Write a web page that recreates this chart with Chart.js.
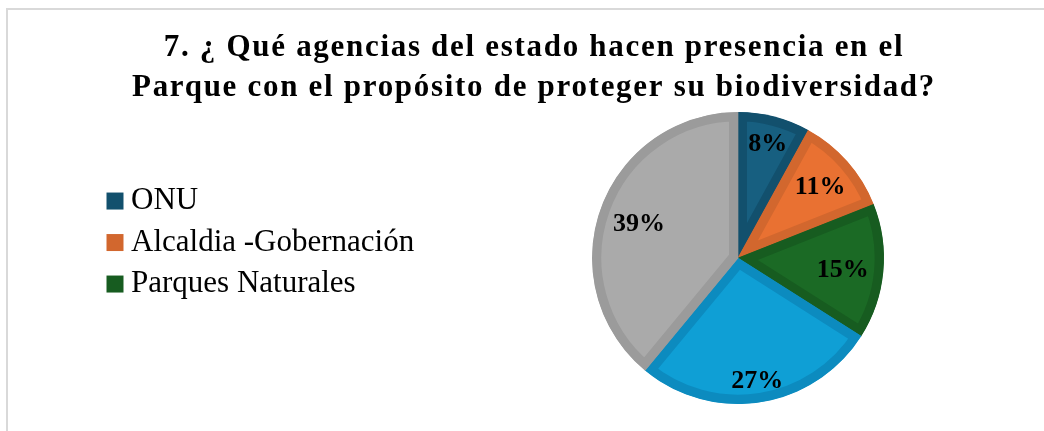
<!DOCTYPE html>
<html>
<head>
<meta charset="utf-8">
<script src="https://cdn.jsdelivr.net/npm/chart.js@4"></script>
<style>
  html, body { margin: 0; padding: 0; background: #fff; overflow: hidden; }
  #wrap { position: relative; width: 1044px; height: 431px; }
  #frame { position: absolute; left: 6px; top: 8px; width: 1100px; height: 500px;
           border-left: 2px solid #d9d9d9; border-top: 2px solid #d9d9d9; }
  canvas { position: absolute; left: 0; top: 0; }
</style>
</head>
<body>
<div id="wrap">
  <div id="frame"></div>
  <canvas id="chart" width="1044" height="431"></canvas>
</div>
<script>
const titleLines = [
  '7. ¿ Qué agencias del estado hacen presencia en el',
  'Parque con el propósito de proteger su biodiversidad?'
];
const categories = ['ONU', 'Alcaldia -Gobernación', 'Parques Naturales', 'Policía Nacional', 'Ninguna'];
const percentages = [8, 11, 15, 27, 39];
const shownInLegend = 3; // the original legend only lists the first three

const fillColors = ['#175f80', '#e97132', '#1b6a25', '#0f9fd5', '#aaaaaa'];
const edgeColors = ['#12506d', '#d2672e', '#175c20', '#0c8bbf', '#9b9b9b'];

Chart.defaults.font.family = "'Liberation Serif', 'Times New Roman', serif";
Chart.defaults.color = '#000';

// % labels inside each slice, placed along the slice's middle angle
const sliceLabels = {
  id: 'sliceLabels',
  afterDatasetsDraw(chart, args, opts) {
    const ctx = chart.ctx;
    const meta = chart.getDatasetMeta(0);
    const vals = chart.data.datasets[0].data;
    const total = vals.reduce((a, b) => a + b, 0);
    ctx.save();
    ctx.font = 'bold 26px ' + Chart.defaults.font.family;
    ctx.fillStyle = '#000';
    ctx.textAlign = 'center';
    ctx.textBaseline = 'middle';
    meta.data.forEach((arc, i) => {
      const mid = (arc.startAngle + arc.endAngle) / 2;
      const r = arc.outerRadius * opts.radius[i];
      const txt = Math.round(vals[i] / total * 100) + '%';
      ctx.fillText(txt, arc.x + Math.cos(mid) * r, arc.y + Math.sin(mid) * r + 2);
    });
    ctx.restore();
  }
};

// wider legend box (pushes the pie right) and letter-spaced title
const tweaks = {
  id: 'tweaks',
  afterInit(chart, args, opts) {
    const lg = chart.legend;
    const fit = lg.fit;
    lg.fit = function () { fit.call(this); this.width = opts.legendWidth; };
    const tb = chart.titleBlock;
    const draw = tb.draw;
    tb.draw = function (area) {
      const c = this.ctx;
      c.save();
      c.letterSpacing = opts.titleSpacing;
      draw.call(this, area);
      c.restore();
    };
  }
};

new Chart(document.getElementById('chart'), {
  type: 'pie',
  data: {
    labels: categories,
    datasets: [{
      data: percentages,
      backgroundColor: fillColors,
      borderColor: edgeColors,
      borderWidth: 9,
      borderAlign: 'inner'
    }]
  },
  options: {
    responsive: false,
    animation: false,
    layout: { padding: { left: 104, right: 80, top: 0, bottom: 27 } },
    plugins: {
      title: {
        display: true,
        text: titleLines,
        color: '#000',
        font: { size: 31, weight: 'bold', lineHeight: 1.27 },
        padding: { top: 28.5, bottom: 4.8 }
      },
      legend: {
        position: 'left',
        align: 'start',
        fullSize: false,
        title: { display: true, text: ' ', font: { size: 13, lineHeight: 1 }, padding: { top: 50, bottom: 0 } },
        labels: {
          font: { size: 31 },
          color: '#000',
          padding: 10.5,
          boxWidth: 1,
          boxHeight: 17,
          usePointStyle: true,
          pointStyle: 'rect',
          generateLabels(chart) {
            const items = Chart.overrides.pie.plugins.legend.labels.generateLabels(chart);
            return items.slice(0, shownInLegend).map((it, i) => Object.assign(it, {
              fillStyle: edgeColors[i], strokeStyle: edgeColors[i], lineWidth: 0
            }));
          }
        }
      },
      tooltip: { enabled: false },
      sliceLabels: { radius: [0.82, 0.75, 0.72, 0.84, 0.72] },
      tweaks: { legendWidth: 408, titleSpacing: '1.7px' }
    }
  },
  plugins: [sliceLabels, tweaks]
});
</script>
</body>
</html>
